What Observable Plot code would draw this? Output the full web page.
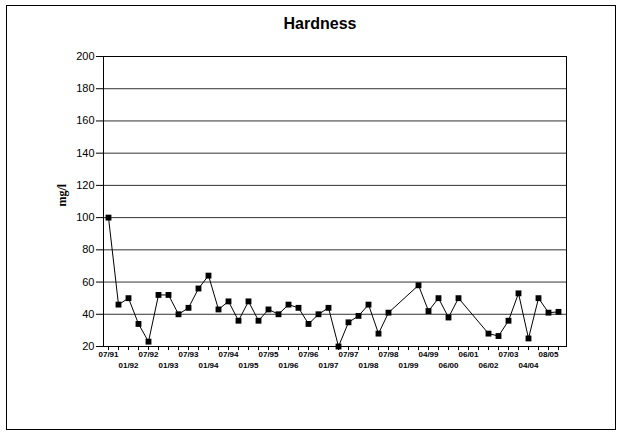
<!DOCTYPE html>
<html><head><meta charset="utf-8">
<script src="https://cdn.jsdelivr.net/npm/d3@7"></script>
<script src="https://cdn.jsdelivr.net/npm/@observablehq/plot@0.6"></script>
<style>
body{margin:0;background:#fff;}
#wrap{position:relative;width:619px;height:432px;}
#wrap svg{position:absolute;left:0;top:0;}
#border{position:absolute;left:6px;top:5px;width:610px;height:425px;border:1px solid #000;box-sizing:border-box;}
</style></head><body><div id="wrap"><div id="border"></div></div>
<script>
const title = "Hardness";
const yLabel = "mg/l";
// one value per sample (category); null = no sample drawn
const hardness = [100,46,50,34,23,52,52,40,44,56,64,43,48,36,48,36,43,40,46,44,34,40,44,20,35,39,46,28,41,null,null,58,42,50,38,50,null,null,28,26.5,36,53,25,50,41,41.5];
// labels shown under every second category
const tickLabels = ["07/91","01/92","07/92","01/93","07/93","01/94","07/94","01/95","07/95","01/96","07/96","01/97","07/97","01/98","07/98","01/99","04/99","06/00","06/01","06/02","07/03","04/04","08/05"];
const yTicks = [20,40,60,80,100,120,140,160,180,200];

const n = hardness.length;
const samples = hardness.map((v,i)=>({i, v})).filter(d=>d.v!=null);
const labelAt = new Map(tickLabels.map((t,k)=>[2*k,t]));
const row1 = tickLabels.map((t,k)=>2*k).filter((_,k)=>k%2===0);
const row2 = tickLabels.map((t,k)=>2*k).filter((_,k)=>k%2===1);

const chart = Plot.plot({
  width:619, height:432, marginTop:56, marginBottom:86, marginLeft:103, marginRight:53,
  style:{fontFamily:"'Liberation Sans', Arial, sans-serif", background:"transparent", color:"#000"},
  x:{type:"point", domain:d3.range(n), padding:0, insetLeft:3, insetRight:6},
  y:{domain:[20,200]},
  marks:[
    Plot.gridY(yTicks.slice(1), {stroke:"#333", strokeOpacity:1}),
    Plot.frame({stroke:"#000"}),
    Plot.axisY(yTicks, {tickSize:7, tickPadding:2, fontSize:11, label:null}),
    Plot.axisX(d3.range(n), {tickSize:4, tickFormat:()=>"", label:null}),
    Plot.axisX(row1, {tickSize:0, tickPadding:5, tickFormat:i=>labelAt.get(i), fontSize:8, fontWeight:"bold", label:null}),
    Plot.axisX(row2, {tickSize:0, tickPadding:16, tickFormat:i=>labelAt.get(i), fontSize:8, fontWeight:"bold", label:null}),
    Plot.line(samples, {x:"i", y:"v", stroke:"#000", strokeWidth:1}),
    Plot.dot(samples, {x:"i", y:"v", symbol:"square", fill:"#000", stroke:"none", r:3.3}),
    Plot.text([title], {frameAnchor:"top", lineAnchor:"middle", dy:-33, dx:-15, fontSize:16, fontWeight:"bold"}),
    Plot.text([yLabel], {frameAnchor:"left", rotate:-90, dx:-41, dy:5, fontFamily:"'Liberation Serif', serif", fontWeight:"bold", fontSize:12})
  ]
});
document.getElementById("wrap").appendChild(chart);
</script>
</body></html>
